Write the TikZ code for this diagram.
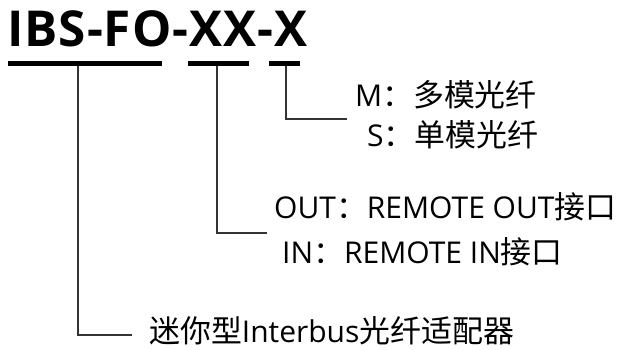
\documentclass[tikz,border=0pt]{standalone}
\usepackage{fontspec}
\setmainfont{Open Sans}
\newfontfamily\titlefont[LetterSpace=2]{Open Sans}
\newfontfamily\cjk[Scale=1.03]{Noto Sans CJK SC}
\begin{document}
\begin{tikzpicture}[x=1pt,y=-1pt,
  lbl/.style={anchor=base west, inner sep=0pt, font=\fontsize{30}{36}\selectfont, text=black},
  ttl/.style={anchor=base west, inner sep=0pt, font=\titlefont\bfseries\fontsize{49.5}{56}\selectfont, text=black},
  bar/.style={fill=black, inner sep=0pt, minimum height=5pt},
  conn/.style={draw=black!80, line width=1.6pt}]
\useasboundingbox (0,0) rectangle (622,349);
\node[ttl] (title) at (7,46.5) {IBS-FO-XX-X};
\node[bar, minimum width=154pt] (b1) at (85,63.5) {};
\node[bar, minimum width=61pt] (b2) at (218.5,63.5) {};
\node[bar, minimum width=31pt] (b3) at (284.5,63.5) {};
\node[lbl] (m) at (355,106) {M{\cjk ：多模光纤}};
\node[lbl] (s) at (367,146) {S{\cjk ：单模光纤}};
\node[lbl] (out) at (274,218) {OUT{\cjk ：}REMOTE OUT{\cjk 接口}};
\node[lbl] (in) at (282,263) {IN{\cjk ：}REMOTE IN{\cjk 接口}};
\node[lbl] (mini) at (149,342) {{\cjk 迷你型}Interbus{\cjk 光纤适配器}};
\coordinate (s1) at (78,66);
\coordinate (e1) at (132,335);
\coordinate (s2) at (217,66);
\coordinate (e2) at (267,233);
\coordinate (s3) at (286,66);
\coordinate (e3) at (347,119);
\draw[conn] (s1) |- (e1);
\draw[conn] (s2) |- (e2);
\draw[conn] (s3) |- (e3);
\end{tikzpicture}
\end{document}
